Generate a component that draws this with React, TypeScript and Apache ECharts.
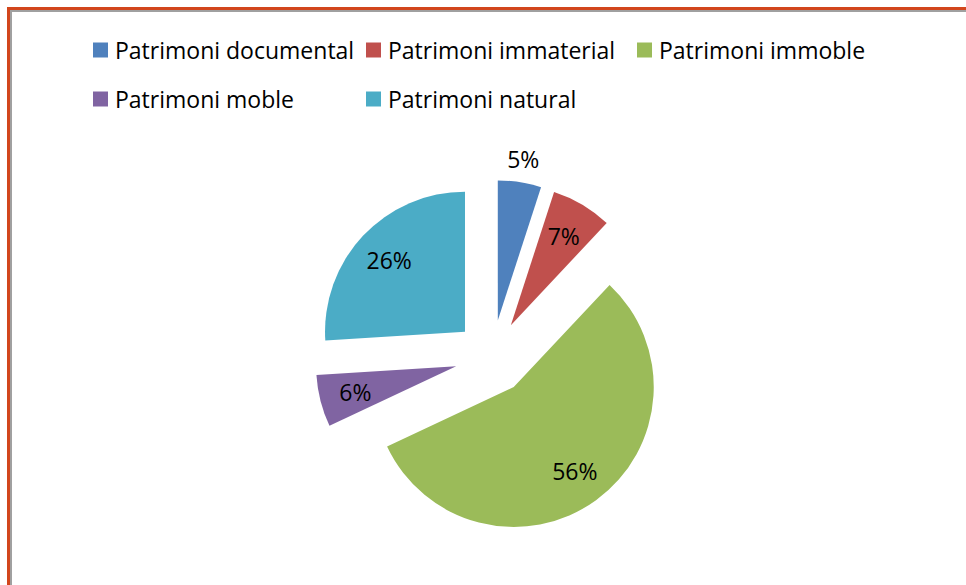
import React, { useEffect, useRef } from "react";
import * as echarts from "echarts";

const categories = [
  "Patrimoni documental",
  "Patrimoni immaterial",
  "Patrimoni immoble",
  "Patrimoni moble",
  "Patrimoni natural",
];
const values = [5, 7, 56, 6, 26];
const colors = ["#4F81BD", "#C0504D", "#9BBB59", "#8064A2", "#4BACC6"];
const outsideLabelCategories = ["Patrimoni documental"];
const legendColumns = [
  ["Patrimoni documental", "Patrimoni moble"],
  ["Patrimoni immaterial", "Patrimoni natural"],
  ["Patrimoni immoble"],
];

const FONT = "'Open Sans', 'Noto Sans', sans-serif";

export default function App() {
  const ref = useRef<HTMLDivElement>(null);

  useEffect(() => {
    if (!ref.current) return;
    const chart = echarts.init(ref.current, null, { renderer: "svg" });
    const center = [492, 357];
    const r = 140;
    const offset = 37;

    const labelStyle = {
      fontFamily: FONT,
      fontSize: 23,
      color: "#000",
    };

    const helperData = (show: (name: string) => boolean) =>
      categories.map((name, i) => ({
        name,
        value: values[i],
        selected: true,
        itemStyle: { color: "rgba(0,0,0,0)", borderWidth: 0 },
        label: { show: show(name) },
      }));

    const legendLefts = [93, 366, 637];

    chart.setOption({
      animation: false,
      backgroundColor: "#ffffff",
      legend: legendColumns.map((col, k) => ({
        data: col,
        orient: "vertical",
        left: legendLefts[k],
        top: 38,
        padding: 0,
        icon: "rect",
        itemWidth: 15,
        itemHeight: 15,
        itemGap: 25,
        selectedMode: false,
        textStyle: { ...labelStyle, lineHeight: 24, padding: [0, 0, 0, 2] },
      })),
      series: [
        {
          type: "pie",
          center,
          radius: [0, r],
          startAngle: 90,
          clockwise: true,
          selectedMode: "multiple",
          selectedOffset: offset,
          avoidLabelOverlap: false,
          silent: true,
          label: { show: false },
          labelLine: { show: false },
          emphasis: { disabled: true },
          data: categories.map((name, i) => ({
            name,
            value: values[i],
            selected: true,
            itemStyle: { color: colors[i], borderWidth: 0 },
          })),
        },
        {
          type: "pie",
          center,
          radius: [62, r],
          startAngle: 90,
          clockwise: true,
          selectedMode: "multiple",
          selectedOffset: offset,
          avoidLabelOverlap: false,
          silent: true,
          label: {
            show: true,
            position: "inside",
            formatter: "{d}%",
            ...labelStyle,
          },
          labelLine: { show: false },
          emphasis: { disabled: true },
          data: helperData((n) => !outsideLabelCategories.includes(n)),
        },
        {
          type: "pie",
          center,
          radius: [r, 180],
          startAngle: 90,
          clockwise: true,
          selectedMode: "multiple",
          selectedOffset: offset,
          avoidLabelOverlap: false,
          silent: true,
          label: {
            show: true,
            position: "inside",
            formatter: "{d}%",
            ...labelStyle,
          },
          labelLine: { show: false },
          emphasis: { disabled: true },
          data: helperData((n) => outsideLabelCategories.includes(n)),
        },
      ],
    });

    return () => chart.dispose();
  }, []);

  return (
    <div
      style={{
        position: "fixed",
        left: 0,
        top: 0,
        width: 966,
        height: 585,
        background: "#fff",
        overflow: "hidden",
      }}
    >
      <div ref={ref} style={{ position: "absolute", left: 0, top: 0, width: 966, height: 585 }} />
      <div
        style={{
          position: "absolute",
          left: 7,
          top: 7,
          width: 1000,
          height: 700,
          borderLeft: "3px solid #D2461C",
          borderTop: "3px solid #D2461C",
          pointerEvents: "none",
        }}
      >
        <div
          style={{
            position: "absolute",
            left: 0,
            top: 0,
            width: 1000,
            height: 700,
            borderLeft: "2px solid #A0A0A0",
            borderTop: "2px solid #A0A0A0",
          }}
        />
      </div>
    </div>
  );
}
